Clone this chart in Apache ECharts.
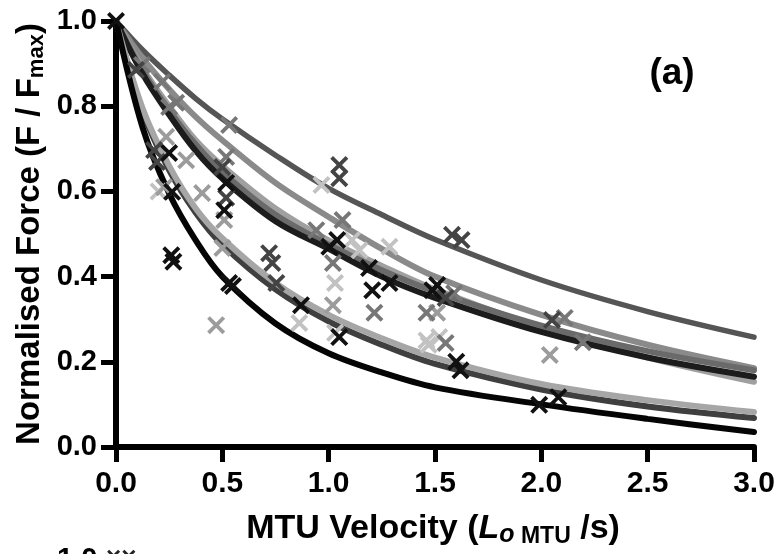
<!DOCTYPE html>
<html>
<head>
<meta charset="utf-8">
<script src="https://cdn.jsdelivr.net/npm/echarts@6/dist/echarts.min.js"></script>
<style>
  html, body { margin: 0; padding: 0; background: #fff; }
  #chart { width: 778px; height: 554px; }
</style>
</head>
<body>
<div id="chart"></div>
<script>
// velocity samples the fitted curves were read at
const velocity = [0, 0.125, 0.25, 0.375, 0.5, 0.75, 1, 1.25, 1.5, 2, 2.5, 3]

// fitted curves (normalised force)
const curveTop = [1, 0.932, 0.873, 0.818, 0.77, 0.685, 0.607, 0.545, 0.487, 0.392, 0.318, 0.258]
const curveM1 = [1, 0.913, 0.84, 0.775, 0.72, 0.62, 0.54, 0.465, 0.40, 0.31, 0.24, 0.185]
const curveM3 = [1, 0.883, 0.79, 0.71, 0.645, 0.545, 0.475, 0.415, 0.365, 0.285, 0.225, 0.18]
const curveM4 = [1, 0.889, 0.80, 0.72, 0.66, 0.56, 0.485, 0.425, 0.37, 0.28, 0.21, 0.153]
const curveM2 = [1, 0.876, 0.78, 0.695, 0.63, 0.53, 0.465, 0.40, 0.35, 0.27, 0.21, 0.165]
const curveL1 = [1, 0.795, 0.66, 0.56, 0.49, 0.385, 0.31, 0.255, 0.21, 0.148, 0.11, 0.082]
const curveL2 = [1, 0.788, 0.65, 0.55, 0.475, 0.37, 0.295, 0.24, 0.195, 0.135, 0.095, 0.068]
const curveBottom = [1, 0.75, 0.595, 0.485, 0.40, 0.29, 0.22, 0.175, 0.14, 0.10, 0.066, 0.035]

// measured points [velocity, force]
const pointsBlack = [[0, 1.0], [0.25, 0.69], [0.264, 0.599], [0.26, 0.45], [0.27, 0.435], [0.532, 0.385],
  [0.55, 0.378], [0.518, 0.62], [0.509, 0.556], [1.04, 0.486], [1.003, 0.47], [1.19, 0.42], [0.87, 0.333],
  [1.05, 0.258], [1.205, 0.368], [1.286, 0.385], [1.488, 0.368], [1.51, 0.38], [1.6, 0.2], [1.62, 0.18],
  [1.99, 0.099], [2.08, 0.117]]
const pointsDark = [[0.094, 0.885], [0.179, 0.697], [0.193, 0.669], [0.5, 0.657], [0.518, 0.585], [1.05, 0.662],
  [1.05, 0.631], [0.72, 0.455], [0.735, 0.432], [0.754, 0.385], [1.58, 0.498], [1.625, 0.486], [1.55, 0.35],
  [2.05, 0.298]]
const pointsGray = [[0.122, 0.897], [0.217, 0.857], [0.283, 0.808], [0.25, 0.798], [0.532, 0.756], [0.518, 0.681],
  [1.065, 0.533], [0.942, 0.509], [1.02, 0.432], [1.215, 0.315], [1.46, 0.315], [1.59, 0.361], [1.55, 0.244],
  [2.11, 0.303], [2.195, 0.246]]
const pointsLight = [[0.236, 0.728], [0.33, 0.673], [0.226, 0.61], [0.405, 0.596], [0.509, 0.533], [0.5, 0.467],
  [0.471, 0.286], [1.02, 0.333], [2.04, 0.216], [1.51, 0.315]]
const pointsPale = [[0.966, 0.615], [1.11, 0.486], [1.286, 0.47], [1.145, 0.462], [1.03, 0.385], [0.862, 0.291],
  [1.03, 0.268], [1.46, 0.25], [1.47, 0.24], [1.52, 0.258], [0.2, 0.6]]

const xTicks = ['0.0', '0.5', '1.0', '1.5', '2.0', '2.5', '3.0']

const FONT = '"Liberation Sans", Arial, sans-serif'
const CROSS = 'path://M0,1.5L1.5,0L5,3.5L8.5,0L10,1.5L6.5,5L10,8.5L8.5,10L5,6.5L1.5,10L0,8.5L3.5,5Z'

const zip = ys => velocity.map((v, i) => [v, ys[i]])

const curves = [
  { data: curveTop, color: '#555555', width: 5.5 },
  { data: curveM1, color: '#8a8a8a', width: 6 },
  { data: curveM4, color: '#a0a0a0', width: 6 },
  { data: curveM3, color: '#6a6a6a', width: 6 },
  { data: curveM2, color: '#1c1c1c', width: 6 },
  { data: curveL2, color: '#3f3f3f', width: 6 },
  { data: curveL1, color: '#a6a6a6', width: 6 },
  { data: curveBottom, color: '#050505', width: 6 }
]

const points = [
  { data: pointsPale, color: '#c2c2c2' },
  { data: pointsLight, color: '#9c9c9c' },
  { data: pointsGray, color: '#777777' },
  { data: pointsDark, color: '#444444' },
  { data: pointsBlack, color: '#111111' }
]

const myChart = echarts.init(document.getElementById('chart'))

myChart.setOption({
  animation: false,
  grid: { left: 116, right: 24, top: 21, bottom: 107 },
  xAxis: {
    type: 'value',
    min: 0,
    max: 3,
    interval: 0.5,
    axisLine: { lineStyle: { color: '#000', width: 6 } },
    axisTick: { length: 15, lineStyle: { color: '#000', width: 5 } },
    axisLabel: {
      margin: 22,
      color: '#000',
      fontSize: 30,
      fontWeight: 'bold',
      fontFamily: FONT,
      formatter: v => xTicks[Math.round(v / 0.5)]
    },
    splitLine: { show: false }
  },
  yAxis: {
    type: 'value',
    min: 0,
    max: 1,
    interval: 0.2,
    axisLine: { show: true, lineStyle: { color: '#000', width: 6 } },
    axisTick: { show: true, length: 15, lineStyle: { color: '#000', width: 5 } },
    axisLabel: {
      margin: 19,
      color: '#000',
      fontSize: 29,
      fontWeight: 'bold',
      fontFamily: FONT,
      formatter: v => v.toFixed(1)
    },
    splitLine: { show: false }
  },
  graphic: [
    {
      type: 'text',
      x: 30,
      y: 234,
      rotation: Math.PI / 2,
      style: {
        text: '{a|Normalised Force (F / F}{b|max}{a|)}',
        textAlign: 'center',
        textVerticalAlign: 'middle',
        fill: '#000',
        rich: {
          a: { fontSize: 33, fontWeight: 'bold', fontFamily: FONT, lineHeight: 36, fill: '#000' },
          b: { fontSize: 22, fontWeight: 'bold', fontFamily: FONT, lineHeight: 22, verticalAlign: 'bottom', fill: '#000' }
        }
      }
    },
    {
      type: 'text',
      x: 433,
      y: 529,
      style: {
        text: '{a|MTU Velocity (}{i|L}{s|o}{m| MTU}{a| /s)}',
        textAlign: 'center',
        textVerticalAlign: 'middle',
        fill: '#000',
        rich: {
          a: { fontSize: 34, fontWeight: 'bold', fontFamily: FONT, lineHeight: 38, fill: '#000' },
          i: { fontSize: 34, fontWeight: 'bold', fontStyle: 'italic', fontFamily: FONT, lineHeight: 38, fill: '#000' },
          s: { fontSize: 25, fontWeight: 'bold', fontStyle: 'italic', fontFamily: FONT, lineHeight: 24, verticalAlign: 'bottom', fill: '#000' },
          m: { fontSize: 23, fontWeight: 'bold', fontFamily: FONT, lineHeight: 22, verticalAlign: 'bottom', fill: '#000' }
        }
      }
    },
    {
      type: 'text',
      x: 672,
      y: 74,
      style: {
        text: '(a)',
        textAlign: 'center',
        textVerticalAlign: 'middle',
        fontSize: 37,
        fontWeight: 'bold',
        fontFamily: FONT,
        fill: '#000'
      }
    },
    {
      type: 'text',
      x: 57,
      y: 545,
      style: {
        text: '1.0',
        textVerticalAlign: 'top',
        fontSize: 29,
        fontWeight: 'bold',
        fontFamily: FONT,
        fill: '#000'
      }
    },
    {
      type: 'text',
      x: 106,
      y: 545,
      style: {
        text: '××',
        textVerticalAlign: 'top',
        fontSize: 26,
        fontWeight: 'bold',
        fontFamily: FONT,
        fill: '#222'
      }
    }
  ],
  series: [
    ...curves.map(c => ({
      type: 'line',
      data: zip(c.data),
      smooth: 0.35,
      showSymbol: false,
      symbol: 'none',
      lineStyle: { color: c.color, width: c.width, cap: 'round' },
      z: 2
    })),
    ...points.map(p => ({
      type: 'scatter',
      data: p.data,
      symbol: CROSS,
      symbolSize: 18,
      itemStyle: { color: p.color, opacity: 1 },
      z: 3
    }))
  ]
})
</script>
</body>
</html>
